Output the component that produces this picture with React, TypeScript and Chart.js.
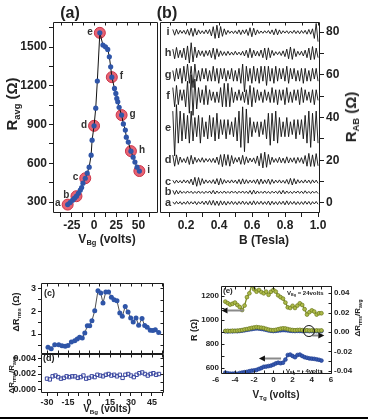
import { useEffect, useRef } from 'react';
import { Chart, registerables } from 'chart.js';

Chart.register(...registerables);

const FONT = '"Liberation Sans", Arial, Helvetica, sans-serif';
Chart.defaults.font.family = FONT;
Chart.defaults.font.weight = 'bold';
Chart.defaults.color = '#222';

const INK = '#1c1c1c';
const BLUE = '#2f55a8';
const OLIVE = '#7d8c25';
const OLIVE_FILL = '#adba48';

// ---------------- Panel (a): R_avg vs V_Bg
const vbgA = [-29.7, -27, -24.2, -22, -19.8, -17.6, -15.5, -14, -12.5, -9.9, -7.7, -5.5, -3.3, -2.2, 0, 1.9, 3.7, 6.5,
  10, 12.8, 15.4, 17.2, 18.7, 20, 23, 24.5, 25.6, 26.7, 28.2, 31, 33, 35.2, 36.3, 38.5, 41.5, 44, 46, 48.4, 51];
const ravgA = [280, 296, 314, 330, 345, 368, 392, 412, 446, 484, 523, 570, 663, 779, 890, 1027, 1237, 1610,
  1515, 1502, 1482, 1425, 1347, 1267, 1180, 1141, 1102, 1076, 1033, 973, 905, 857, 802, 764, 694, 647, 609, 570, 540];
const markV = [-29.7, -19.8, -9.9, 0, 6.5, 20, 31, 41.5, 51];
const markR = [280, 345, 484, 890, 1610, 1267, 973, 694, 540];
const markNames = ['a', 'b', 'c', 'd', 'e', 'f', 'g', 'h', 'i'];
const aXMajor = [-25, 0, 25, 50];
const aXMinor = [-37.5, -12.5, 12.5, 37.5, 62.5];
const aYMajor = [300, 600, 900, 1200, 1500];
const aYMinor = [450, 750, 1050, 1350, 1650];

// ---------------- Panel (b): R_AB vs B, traces offset
const traceNames = ['a', 'b', 'c', 'd', 'e', 'f', 'g', 'h', 'i'];
const traceBase = [0, 5, 10, 20, 35, 50, 60, 70, 80];
const B_FIRST = 0.12;
const B_LAST = 1.0;
const ripA = [0.5, -0.6, 0.7, -0.5, 0.6, -0.7, 0.5, -0.6, 0.8, -0.6,
  0.6, -0.5, 0.7, -0.8, 0.6, -0.5, 0.8, -0.7, 0.9, -0.8,
  1.1, -1.0, 1.2, -1.1, 0.9, -1.2, 1.0, -0.9, 0.8, -1.0,
  0.7, -0.6, 0.8, -0.7, 0.6, -0.8, 0.7, -0.6, 0.9, -0.7,
  0.6, -0.8, 0.7, -0.9, 1.0, -0.8, 0.7, -0.6, 0.8, -0.7,
  0.6, -0.7, 0.9, -1.0, 0.8, -0.7, 0.6, -0.8, 0.7, -0.6,
  0.8, -0.9, 1.0, -0.8, 0.7, -0.6, 0.7, -0.8, 0.6, -0.7,
  0.6, -0.7, 0.8, -0.6, 0.7, -0.8, 0.6, -0.5, 0.7, -0.6];
const ripB = [0.9, -1.0, 0.9, -0.8, 0.7, -0.5, 0.4, -0.5, 0.6, -0.4,
  0.5, -0.6, 0.4, -0.5, 0.6, -0.5, 0.4, -0.6, 0.5, -0.4,
  0.6, -0.7, 0.9, -0.8, 0.6, -0.5, 0.4, -0.5, 0.6, -0.5,
  0.4, -0.5, 0.6, -0.4, 0.5, -0.6, 0.5, -0.4, 0.6, -0.5,
  0.5, -0.6, 0.8, -0.9, 1.0, -0.8, 0.6, -0.5, 0.4, -0.5,
  0.6, -0.5, 0.4, -0.6, 0.5, -0.4, 0.5, -0.6, 0.7, -0.8,
  0.9, -0.7, 0.6, -0.5, 0.4, -0.6, 0.5, -0.4, 0.6, -0.5,
  0.5, -0.6, 0.7, -0.5, 0.4, -0.6, 0.5, -0.4, 0.5, -0.6];
const ripC = [0.6, -0.8, 0.7, -0.6, 0.5, -0.7, 0.8, -0.6, 0.7, -0.9,
  1.2, -1.6, 2.0, -2.2, 1.9, -1.7, 1.4, -1.0, 0.8, -0.7,
  0.6, -0.8, 0.9, -1.1, 1.4, -1.6, 1.5, -1.2, 0.9, -0.7,
  0.6, -0.7, 0.8, -0.6, 0.7, -0.9, 1.0, -1.2, 1.3, -1.1,
  0.9, -0.8, 0.7, -0.6, 0.8, -0.9, 1.1, -1.3, 1.2, -1.0,
  0.8, -0.9, 1.2, -1.3, 1.0, -0.8, 0.7, -0.6, 0.8, -0.7,
  0.6, -0.8, 1.0, -1.2, 1.5, -1.6, 1.4, -1.1, 0.9, -0.7,
  0.6, -0.7, 0.8, -0.6, 0.7, -0.9, 0.8, -0.6, 0.7, -0.8];
const ripD = [2.4, -2.8, 2.5, -2.0, 1.5, -1.0, 0.8, -1.2, 1.6, -2.0,
  2.3, -1.8, 1.4, -1.0, 0.8, -0.9, 1.2, -1.0, 0.8, -0.7,
  0.8, -1.0, 0.9, -1.2, 1.5, -2.0, 2.6, -3.0, 2.8, -2.4,
  2.6, -2.8, 2.2, -1.6, 1.2, -0.9, 1.4, -1.9, 2.3, -2.0,
  1.6, -1.2, 1.0, -0.8, 1.1, -1.5, 2.0, -2.6, 3.2, -3.6,
  3.8, -3.3, 2.7, -2.0, 1.4, -1.0, 0.8, -1.1, 1.4, -1.2,
  1.0, -1.4, 1.6, -1.3, 1.1, -0.9, 1.2, -1.5, 1.3, -1.0,
  1.2, -1.6, 2.2, -2.8, 3.2, -2.9, 2.5, -2.9, 3.1, -2.6];
const ripE = [8, -13, 11, -7, 8, -6, 7, -5, 6, -7,
  8, -6, 5, -4, 6, -7, 5, -4, 3, -5,
  6, -4, 5, -6, 7, -5, 4, -3, 4, -5,
  4, -3, 3, -4, 5, -6, 8, -9, 10, -11,
  9, -7, 5, -4, 3, -2, 3, -4, 3, -3,
  4, -5, 7, -8, 7, -6, 8, -7, 5, -4,
  3, -4, 5, -4, 3, -3, 4, -5, 4, -3,
  4, -5, 6, -7, 8, -9, 7, -6, 8, -7];
const ripF = [4, -5, 5, -4, 3, -2, 3, -5, 7, -8,
  10, -9, 8, -6, 4, -3, 3, -4, 5, -4,
  3, -2, 2, -3, 2, -3, 4, -5, 6, -5,
  6, -5, 4, -3, 2, -2, 3, -2, 2, -3,
  3, -4, 5, -5, 4, -3, 3, -2, 2, -3,
  3, -2, 2, -3, 4, -3, 3, -4, 3, -2,
  3, -4, 4, -3, 2, -3, 3, -2, 3, -4,
  4, -3, 3, -2, 2, -3, 3, -4, 3, -2];
const ripG = [2, -3, 3, -2, 3, -4, 4, -3, 5, -4,
  4, -6, 5, -3, 2, -3, 3, -2, 3, -3,
  2, -3, 4, -3, 3, -4, 3, -2, 3, -3,
  2, -2, 3, -3, 2, -3, 3, -4, 5, -8,
  4, -3, 3, -4, 4, -3, 3, -4, 4, -3,
  4, -5, 4, -3, 3, -4, 4, -3, 3, -2,
  3, -3, 4, -4, 3, -2, 3, -3, 2, -3,
  3, -4, 3, -3, 2, -3, 3, -2, 3, -3];
const ripH = [2, -2.5, 2.8, -2, 1.5, -2, 2.5, -3, 3.5, -4.5,
  5, -4, 3, -2, 1.5, -1, 1.2, -1.5, 1.3, -1,
  1.5, -2, 2.5, -2.8, 2.2, -1.5, 1.2, -1, 0.8, -1,
  1, -0.8, 0.6, -0.8, 1, -0.7, 0.6, -0.8, 1, -1.2,
  1.5, -2, 2.4, -2, 1.5, -1.2, 1, -1.3, 1.6, -2,
  2.5, -3, 2.6, -2, 1.4, -1, 0.8, -0.6, 0.8, -1,
  1.2, -1.5, 2, -2.5, 3, -2.8, 2.2, -1.5, 1, -0.8,
  1, -1.2, 1.5, -2, 2.5, -3, 3.2, -2.8, 2.5, -2];
const ripI = [1.2, -1.5, 1.3, -1, 0.8, -0.6, 0.8, -1, 1.2, -1.5,
  1.8, -2, 1.7, -1.4, 1, -0.8, 0.6, -0.8, 1, -0.8,
  1.2, -1.8, 2.5, -3, 3.2, -2.8, 2.6, -2, 1.5, -1.2,
  0.8, -0.6, 0.5, -0.7, 0.6, -0.8, 1, -1.2, 1, -0.8,
  1.2, -1.6, 2, -2.2, 1.8, -1.4, 1, -0.7, 0.5, -0.6,
  0.6, -0.5, 0.7, -0.8, 1, -1.3, 1.5, -1.3, 1, -0.8,
  0.6, -0.5, 0.6, -0.7, 0.5, -0.6, 0.8, -0.7, 0.6, -0.8,
  0.7, -0.6, 0.8, -1, 1.2, -1, 1.5, -3, 4, -4.5];
const ripples = [ripA, ripB, ripC, ripD, ripE, ripF, ripG, ripH, ripI];
const bXMajor = [0.2, 0.4, 0.6, 0.8, 1.0];
const bXMinor = [0.1, 0.3, 0.5, 0.7, 0.9];
const bYMajor = [0, 20, 40, 60, 80];
const bYMinor = [10, 30, 50, 70];

// ---------------- Panel (c): ΔR_rms vs V_Bg
const vbgC = [-29.3, -27, -24.5, -21.6, -19.3, -17, -15, -12.6, -10.2, -8.4, -6.7, -4.8, -3, -1.2, 0.5, 2.1, 4.1, 6.4, 8.4, 10,
  12, 14, 16, 17.9, 20, 22, 23.8, 25.9, 27.9, 29.8, 31.6, 33.6, 35.5, 37.9, 39.8, 41.6, 43.8, 45.7, 47.4, 49.8];
const rmsC = [0.42, 0.36, 0.53, 0.53, 0.49, 0.47, 0.5, 0.65, 0.71, 0.78, 0.86, 0.83, 1.04, 1.36, 1.36, 1.58, 2.01, 2.88, 2.78, 2.35,
  2.83, 2.83, 2.6, 2.49, 2.45, 1.91, 1.77, 2.2, 1.96, 1.7, 1.52, 1.7, 1.38, 1.67, 1.37, 1.29, 1.16, 1.15, 1.19, 1.07];
const cdXMajor = [-30, -15, 0, 15, 30, 45];
const cdXMinor = [-22.5, -7.5, 7.5, 22.5, 37.5, 52.5];
const cYMajor = [1, 2, 3];
const cYMinor = [0.5, 1.5, 2.5];

// ---------------- Panel (d): ΔR_rms/R_avg vs V_Bg
const vbgD = [-30, -28, -26, -24, -22, -20, -18, -16, -14, -12, -10, -8, -6, -4, -2, 0, 2, 4, 6, 8, 10,
  12, 14, 16, 18, 20, 22, 24, 26, 28, 30, 32, 34, 36, 38, 40, 42, 44, 46, 48, 50];
const ratioD = [0.0014, 0.0013, 0.0017, 0.0018, 0.0016, 0.0014, 0.0015, 0.0017, 0.0016, 0.0017, 0.0017, 0.0015, 0.0016, 0.0018,
  0.0014, 0.0015, 0.0017, 0.0016, 0.0019, 0.0018, 0.0017, 0.0019, 0.002, 0.0018, 0.0019, 0.0017, 0.0019, 0.0015, 0.0019,
  0.002, 0.0018, 0.0016, 0.0019, 0.0021, 0.0022, 0.002, 0.0018, 0.002, 0.0021, 0.0019, 0.002];
const dYMajor = [0, 0.002, 0.004];
const dYMinor = [0.001, 0.003];

// ---------------- Panel (e): R and ΔR_rms/R_avg vs V_Tg
const vTg = [-5, -4.75, -4.5, -4.25, -4, -3.75, -3.5, -3.25, -3, -2.75, -2.5, -2.25, -2, -1.75, -1.5, -1.25, -1, -0.75, -0.5, -0.25,
  0, 0.25, 0.5, 0.75, 1, 1.25, 1.5, 1.75, 2, 2.25, 2.5, 2.75, 3, 3.25, 3.5, 3.75, 4, 4.25, 4.5, 4.75, 5];
const rBg24 = [1153, 1140, 1128, 1135, 1145, 1125, 1108, 1083, 1120, 1190, 1222, 1290, 1255, 1236, 1250, 1232, 1222, 1236, 1210, 1235,
  1250, 1236, 1205, 1190, 1178, 1145, 1105, 1100, 1118, 1100, 1120, 1139, 1125, 1090, 1045, 1065, 1080, 1070, 1045, 1056, 1056];
const rBgM4 = [561, 556, 553, 552, 555, 551, 558, 562, 565, 568, 573, 578, 580, 584, 592, 600, 610, 612, 616, 620,
  628, 638, 644, 640, 644, 670, 708, 712, 700, 690, 708, 712, 700, 690, 685, 680, 678, 676, 672, 668, 662];
const ratioBg24 = [0.001, 0.0012, 0.0009, 0.0013, 0.0011, 0.0014, 0.0016, 0.002, 0.0026, 0.003, 0.0036, 0.0042, 0.0046, 0.005,
  0.0047, 0.0044, 0.004, 0.0032, 0.0025, 0.002, 0.0018, 0.0022, 0.0028, 0.0034, 0.0038, 0.0036, 0.003, 0.0024, 0.002, 0.0018,
  0.002, 0.0022, 0.0019, 0.0016, 0.0018, 0.0015, 0.0017, 0.0014, 0.0016, 0.0015, 0.0016];
const ratioBgM4 = [0.0008, 0.0006, 0.0009, 0.0007, 0.001, 0.0008, 0.0011, 0.0014, 0.0018, 0.0022, 0.0026, 0.003, 0.0034, 0.0037,
  0.0035, 0.0032, 0.0028, 0.0022, 0.0016, 0.0012, 0.001, 0.0012, 0.0015, 0.0018, 0.002, 0.0019, 0.0016, 0.0013, 0.0011, 0.001,
  0.0012, 0.0011, 0.001, 0.0009, 0.0011, 0.0009, 0.001, 0.0008, 0.0009, 0.0008, 0.0009];
const eXMajor = [-6, -4, -2, 0, 2, 4, 6];
const eXMinor = [-5, -3, -1, 1, 3, 5];
const eYMajor = [600, 800, 1000, 1200];
const eYMinor = [700, 900, 1100];
const eY2Major = [-0.04, -0.02, 0, 0.02, 0.04];
const eY2Minor = [-0.03, -0.01, 0.01, 0.03];
const eArrows = [
  { scale: 'y', level: 1083, from: -3.1, to: -5.4 },
  { scale: 'y', level: 686, from: 0.8, to: -1.5 },
  { scale: 'y2', level: -0.003, from: 4.05, to: 5.3 },
];
const eCircle = { scale: 'y2', v: 3.7, level: 0.001, r: 5.5 };

// ---------------- helpers
const isMajor = (arr: number[], v: number) => arr.some((m) => Math.abs(m - v) < 1e-9);

function axis(o: {
  min: number; max: number; pos: string; major: number[]; minor: number[];
  fmt: (v: number) => string; size: number; fit: number; tick: number; pad: number; display?: boolean;
}) {
  const horizontal = o.pos === 'bottom' || o.pos === 'top';
  return {
    type: 'linear',
    position: o.pos,
    display: o.display ?? true,
    min: o.min,
    max: o.max,
    afterBuildTicks: (s: any) => {
      s.ticks = [...o.major, ...o.minor].sort((p, q) => p - q).map((v) => ({ value: v }));
    },
    afterFit: (s: any) => {
      if (horizontal) s.height = o.fit;
      else s.width = o.fit;
    },
    ticks: {
      autoSkip: false, maxRotation: 0, minRotation: 0, padding: o.pad,
      font: { size: o.size, weight: 'bold', family: FONT }, color: '#222',
      callback: (v: number) => (isMajor(o.major, v) ? o.fmt(v) : ''),
    },
    grid: { display: true, drawOnChartArea: false, drawTicks: o.tick > 0, tickLength: o.tick, color: INK, lineWidth: 1 },
    border: { display: false },
  };
}

type TickSide = { id: string; vals: number[] };
function framePlugin(sides: { top?: TickSide; bottom?: TickSide; left?: TickSide; right?: TickSide }, len = 3) {
  return {
    id: 'frame',
    afterDraw(chart: any) {
      const { ctx, chartArea: a } = chart;
      const L = Math.round(a.left) + 0.5, R = Math.round(a.right) - 0.5;
      const T = Math.round(a.top) + 0.5, B = Math.round(a.bottom) - 0.5;
      const px = (side?: TickSide) => {
        if (!side) return [] as number[];
        const s = chart.scales[side.id];
        return side.vals
          .filter((v) => v >= s.min - 1e-9 && v <= s.max + 1e-9)
          .map((v) => Math.round(s.getPixelForValue(v)) + 0.5);
      };
      ctx.save();
      ctx.strokeStyle = INK;
      ctx.lineWidth = 1;
      ctx.beginPath();
      ctx.rect(L, T, R - L, B - T);
      px(sides.top).forEach((x) => { ctx.moveTo(x, T); ctx.lineTo(x, T + len); });
      px(sides.bottom).forEach((x) => { ctx.moveTo(x, B); ctx.lineTo(x, B - len); });
      px(sides.left).forEach((y) => { ctx.moveTo(L, y); ctx.lineTo(L + len, y); });
      px(sides.right).forEach((y) => { ctx.moveTo(R, y); ctx.lineTo(R - len, y); });
      ctx.stroke();
      ctx.restore();
    },
  };
}

const baseOptions = (padding: any, scales: any) => ({
  responsive: false,
  animation: false,
  events: [],
  layout: { padding },
  plugins: { legend: { display: false }, tooltip: { enabled: false } },
  scales,
});

const markLabelPlugin = {
  id: 'markLabels',
  afterDatasetsDraw(chart: any) {
    const meta = chart.getDatasetMeta(1);
    const ctx = chart.ctx;
    ctx.save();
    ctx.font = `bold 10px ${FONT}`;
    ctx.fillStyle = '#333';
    ctx.textBaseline = 'middle';
    meta.data.forEach((el: any, i: number) => {
      const right = markV[i] > 10;
      ctx.textAlign = right ? 'left' : 'right';
      ctx.fillText(markNames[i], el.x + (right ? 8 : -7), el.y - 1);
    });
    ctx.restore();
  },
};

const traceLabelPlugin = {
  id: 'traceLabels',
  afterDatasetsDraw(chart: any) {
    const { ctx, chartArea } = chart;
    const ys = chart.scales.y;
    ctx.save();
    ctx.font = `bold 11px ${FONT}`;
    ctx.fillStyle = '#333';
    ctx.textAlign = 'center';
    ctx.textBaseline = 'middle';
    traceNames.forEach((n, i) => ctx.fillText(n, chartArea.left + 8, ys.getPixelForValue(traceBase[i])));
    ctx.restore();
  },
};

const annotationPlugin = {
  id: 'eNotes',
  afterDatasetsDraw(chart: any) {
    const { ctx } = chart;
    const xs = chart.scales.x;
    ctx.save();
    eArrows.forEach((a) => {
      const y = Math.round(chart.scales[a.scale].getPixelForValue(a.level)) + 0.5;
      const x0 = xs.getPixelForValue(a.from);
      const x1 = xs.getPixelForValue(a.to);
      const dir = Math.sign(x1 - x0);
      const head = 6;
      ctx.strokeStyle = '#8a8a8a';
      ctx.lineWidth = 2;
      ctx.beginPath();
      ctx.moveTo(x0, y);
      ctx.lineTo(x1 - dir * head, y);
      ctx.stroke();
      ctx.fillStyle = '#111';
      ctx.beginPath();
      ctx.moveTo(x1, y);
      ctx.lineTo(x1 - dir * head, y - 3);
      ctx.lineTo(x1 - dir * head, y + 3);
      ctx.closePath();
      ctx.fill();
    });
    const cx = xs.getPixelForValue(eCircle.v);
    const cy = chart.scales[eCircle.scale].getPixelForValue(eCircle.level);
    ctx.strokeStyle = '#111';
    ctx.lineWidth = 1;
    ctx.beginPath();
    ctx.arc(cx, cy, eCircle.r, 0, Math.PI * 2);
    ctx.stroke();
    ctx.restore();
  },
};

// ---------------- chart builders
const buildA = () => ({
  type: 'scatter',
  data: {
    datasets: [
      {
        data: vbgA.map((x, i) => ({ x, y: ravgA[i] })), showLine: true, borderColor: '#111', borderWidth: 1,
        pointRadius: 2.6, pointBackgroundColor: BLUE, pointBorderWidth: 0, order: 1,
      },
      {
        data: markV.map((x, i) => ({ x, y: markR[i] })), showLine: false, pointRadius: 5.5,
        pointBackgroundColor: 'rgba(226,72,90,0.85)', pointBorderColor: '#cc3347', pointBorderWidth: 1, order: 2,
      },
    ],
  },
  options: baseOptions({ top: 22, right: 4, bottom: 0, left: 0 }, {
    x: axis({ min: -46.2, max: 71.4, pos: 'bottom', major: aXMajor, minor: aXMinor, fmt: (v) => String(v), size: 12, fit: 37, tick: 4, pad: 1 }),
    y: axis({ min: 215, max: 1694, pos: 'left', major: aYMajor, minor: aYMinor, fmt: (v) => String(v), size: 12, fit: 53, tick: 4, pad: 2 }),
  }),
  plugins: [framePlugin({ top: { id: 'x', vals: [...aXMajor, ...aXMinor] } }), markLabelPlugin],
});

const bField = ripA.map((_, i) => B_FIRST + (i * (B_LAST - B_FIRST)) / (ripA.length - 1));

const buildB = () => ({
  type: 'scatter',
  data: {
    datasets: ripples.map((rip, k) => ({
      data: rip.map((d, i) => ({ x: bField[i], y: traceBase[k] + d })),
      showLine: true, borderColor: '#111', borderWidth: 0.9, pointRadius: 0,
    })),
  },
  options: baseOptions({ top: 22, right: 0, bottom: 0, left: 4 }, {
    x: axis({ min: 0.0424, max: 1.012, pos: 'bottom', major: bXMajor, minor: bXMinor, fmt: (v) => v.toFixed(1), size: 12, fit: 37, tick: 4, pad: 1 }),
    y: axis({ min: -4.7, max: 84.7, pos: 'right', major: bYMajor, minor: bYMinor, fmt: (v) => String(v), size: 12, fit: 48, tick: 4, pad: 2 }),
  }),
  plugins: [framePlugin({ top: { id: 'x', vals: [...bXMajor, ...bXMinor] } }), traceLabelPlugin],
});

const buildC = () => ({
  type: 'scatter',
  data: {
    datasets: [{
      data: vbgC.map((x, i) => ({ x, y: rmsC[i] })), showLine: true, borderColor: '#222', borderWidth: 0.8,
      pointRadius: 2.5, pointBackgroundColor: BLUE, pointBorderWidth: 0,
    }],
  },
  options: baseOptions({ top: 17, right: 6, bottom: 12, left: 0 }, {
    x: axis({ min: -34.3, max: 53.6, pos: 'bottom', major: cdXMajor, minor: cdXMinor, fmt: (v) => String(v), size: 9, fit: 0, tick: 0, pad: 1, display: false }),
    y: axis({ min: 0.13, max: 3.22, pos: 'left', major: cYMajor, minor: cYMinor, fmt: (v) => String(v), size: 9, fit: 41, tick: 3, pad: 2 }),
  }),
  plugins: [framePlugin({
    top: { id: 'x', vals: [...cdXMajor, ...cdXMinor] },
    bottom: { id: 'x', vals: [...cdXMajor, ...cdXMinor] },
    right: { id: 'y', vals: [...cYMajor, ...cYMinor] },
  })],
});

const buildD = () => ({
  type: 'scatter',
  data: {
    datasets: [{
      data: vbgD.map((x, i) => ({ x, y: ratioD[i] })), showLine: false, pointStyle: 'rect', pointRadius: 2.4,
      pointBackgroundColor: 'rgba(255,255,255,0)', pointBorderColor: '#3a47a0', pointBorderWidth: 1,
    }],
  },
  options: baseOptions({ top: 14, right: 6, bottom: 0, left: 0 }, {
    x: axis({ min: -34.3, max: 53.6, pos: 'bottom', major: cdXMajor, minor: cdXMinor, fmt: (v) => String(v), size: 9, fit: 27, tick: 3, pad: 1 }),
    y: axis({ min: -0.00045, max: 0.00458, pos: 'left', major: dYMajor, minor: dYMinor, fmt: (v) => v.toFixed(3), size: 9, fit: 41, tick: 3, pad: 2 }),
  }),
  plugins: [framePlugin({
    top: { id: 'x', vals: [...cdXMajor, ...cdXMinor] },
    right: { id: 'y', vals: [...dYMajor, ...dYMinor] },
  })],
});

const oliveSet = (ys: number[], axisId: string, order: number) => ({
  data: vTg.map((x, i) => ({ x, y: ys[i] })), yAxisID: axisId, showLine: true, borderColor: OLIVE, borderWidth: 1.4,
  pointRadius: 1.9, pointBackgroundColor: OLIVE_FILL, pointBorderColor: '#6a781c', pointBorderWidth: 0.7, order,
});
const blueSet = (ys: number[], axisId: string, order: number) => ({
  data: vTg.map((x, i) => ({ x, y: ys[i] })), yAxisID: axisId, showLine: true, borderColor: '#2446a0', borderWidth: 1.4,
  pointRadius: 1.9, pointBackgroundColor: '#3558b0', pointBorderColor: '#1f3d8f', pointBorderWidth: 0.7, order,
});

const buildE = () => ({
  type: 'scatter',
  data: {
    datasets: [
      blueSet(ratioBgM4, 'y2', 4),
      oliveSet(ratioBg24, 'y2', 3),
      oliveSet(rBg24, 'y', 2),
      blueSet(rBgM4, 'y', 1),
    ],
  },
  options: baseOptions({ top: 16, right: 0, bottom: 0, left: 0 }, {
    x: axis({ min: -5.45, max: 6.1, pos: 'bottom', major: eXMajor, minor: eXMinor, fmt: (v) => String(v), size: 8, fit: 46, tick: 0, pad: 1 }),
    y: axis({ min: 550, max: 1283, pos: 'left', major: eYMajor, minor: eYMinor, fmt: (v) => String(v), size: 8, fit: 37, tick: 0, pad: 2 }),
    y2: axis({ min: -0.0431, max: 0.0472, pos: 'right', major: eY2Major, minor: eY2Minor, fmt: (v) => v.toFixed(2), size: 8, fit: 36, tick: 0, pad: 2 }),
  }),
  plugins: [framePlugin({
    top: { id: 'x', vals: [...eXMajor, ...eXMinor] },
    bottom: { id: 'x', vals: [...eXMajor, ...eXMinor] },
    left: { id: 'y', vals: [...eYMajor, ...eYMinor] },
    right: { id: 'y2', vals: [...eY2Major, ...eY2Minor] },
  }), annotationPlugin],
});

// ---------------- components
function Panel({ l, t, w, h, build }: { l: number; t: number; w: number; h: number; build: () => any }) {
  const ref = useRef<HTMLCanvasElement | null>(null);
  useEffect(() => {
    if (!ref.current) return;
    const chart = new Chart(ref.current, build());
    return () => chart.destroy();
  }, []);
  return (
    <canvas ref={ref} width={w} height={h}
      style={{ position: 'absolute', left: l, top: t, width: w, height: h }} />
  );
}

function Sub({ children }: { children: any }) {
  return <span style={{ fontSize: '62%', verticalAlign: '-0.3em' }}>{children}</span>;
}

function Txt({ x, y, size, rot = 0, anchor = 'center', children }:
  { x: number; y: number; size: number; rot?: number; anchor?: string; children: any }) {
  const tx = anchor === 'center' ? '-50%' : anchor === 'left' ? '0%' : '-100%';
  return (
    <div style={{
      position: 'absolute', left: x, top: y, transform: `translate(${tx},-50%) rotate(${rot}deg)`,
      fontFamily: FONT, fontWeight: 'bold', fontSize: size, lineHeight: 1, whiteSpace: 'nowrap', color: '#222',
    }}>{children}</div>
  );
}

export default function App() {
  return (
    <div style={{ position: 'fixed', left: 0, top: 0, width: 368, height: 420, background: '#fff', overflow: 'hidden' }}>
      <Panel l={0} t={0} w={164} h={250} build={buildA} />
      <Panel l={156} t={0} w={212} h={250} build={buildB} />
      <Panel l={0} t={266} w={170} h={100} build={buildC} />
      <Panel l={0} t={340} w={170} h={80} build={buildD} />
      <Panel l={184} t={270} w={184} h={150} build={buildE} />

      <Txt x={70} y={13} size={16}>(a)</Txt>
      <Txt x={167} y={13} size={16}>(b)</Txt>
      <Txt x={13} y={104} size={15} rot={-90}>R<Sub>avg</Sub> (Ω)</Txt>
      <Txt x={107} y={240} size={12}>V<Sub>Bg</Sub> (volts)</Txt>
      <Txt x={264} y={240} size={12}>B (Tesla)</Txt>
      <Txt x={352} y={117} size={15} rot={-90}>R<Sub>AB</Sub> (Ω)</Txt>

      <Txt x={44} y={293} size={9} anchor="left">(c)</Txt>
      <Txt x={17} y={312} size={9} rot={-90}>ΔR<Sub>rms</Sub> (Ω)</Txt>
      <Txt x={43} y={358} size={9} anchor="left">(d)</Txt>
      <Txt x={13} y={375} size={8} rot={-90}>ΔR<Sub>rms</Sub>/R<Sub>avg</Sub></Txt>
      <Txt x={107} y={410} size={10}>V<Sub>Bg</Sub> (volts)</Txt>

      <Txt x={223} y={291} size={8} anchor="left">(e)</Txt>
      <Txt x={287} y={294} size={6} anchor="left">V<Sub>Bg</Sub> = 24volts</Txt>
      <Txt x={286} y={372} size={6} anchor="left">V<Sub>Bg</Sub> = - 4volts</Txt>
      <Txt x={194} y={330} size={9} rot={-90}>R (Ω)</Txt>
      <Txt x={276} y={396} size={10}>V<Sub>Tg</Sub> (volts)</Txt>
      <Txt x={359} y={318} size={8} rot={-90}>ΔR<Sub>rms</Sub>/R<Sub>avg</Sub></Txt>

      <div style={{ position: 'absolute', left: 0, top: 417, width: 368, height: 2, background: '#000' }} />
    </div>
  );
}
